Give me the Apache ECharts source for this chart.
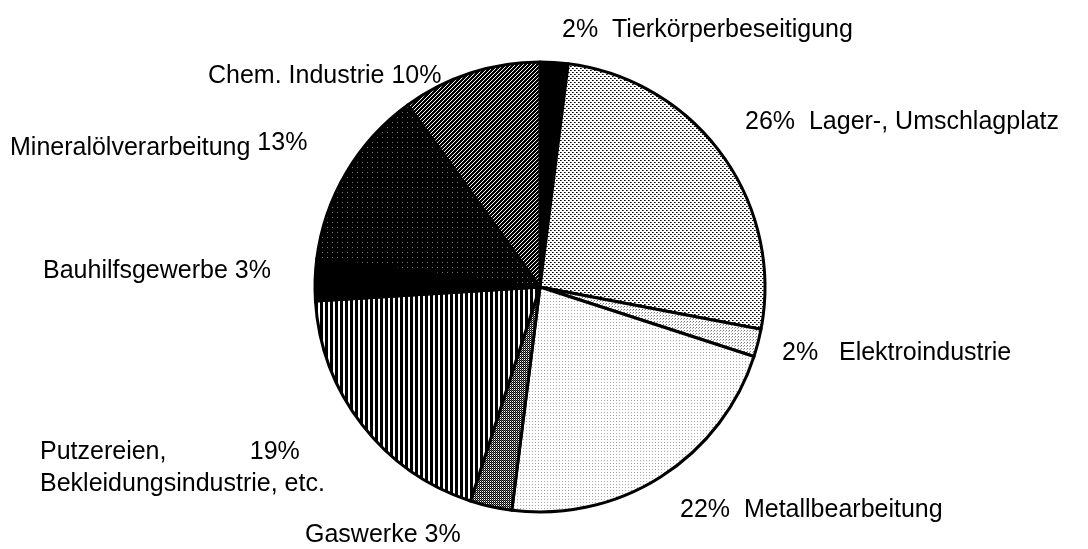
<!DOCTYPE html>
<html>
<head>
<meta charset="utf-8">
<script src="https://cdn.jsdelivr.net/npm/echarts@6/dist/echarts.min.js"></script>
<style>
  html, body { margin: 0; padding: 0; background: #fff; }
  #chart { width: 1088px; height: 549px; }
</style>
</head>
<body>
<div id="chart"></div>
<script>
// Daten (Anteile in %), im Uhrzeigersinn ab 12 Uhr
var names = ['Tierkörperbeseitigung', 'Lager-, Umschlagplatz', 'Elektroindustrie', 'Metallbearbeitung',
             'Gaswerke', 'Putzereien, Bekleidungsindustrie, etc.', 'Bauhilfsgewerbe',
             'Mineralölverarbeitung', 'Chem. Industrie'];
var values = [2, 26, 2, 22, 3, 19, 3, 13, 10];
// Beschriftungsformat je Segment
var labelFmt = ['{c}%  {b}', '{c}%  {b}', '{c}%   {b}', '{c}%  {b}', 'Gaswerke {c}%',
                'Putzereien,            {c}%\nBekleidungsindustrie, etc.', '{b} {c}%', '{b} {up|{c}%}', '{b} {c}%'];
// Lage der Beschriftungen (linke Kante, Mitte)
var labelAt = [[562, 30], [745, 122], [782, 353], [680, 510], [305, 535],
               [40, 468], [43, 271], [10, 148], [208, 76]];

function tile(w, h, draw) {
    var c = document.createElement('canvas');
    c.width = w; c.height = h;
    var g = c.getContext('2d');
    g.fillStyle = '#fff';
    g.fillRect(0, 0, w, h);
    draw(g);
    return { image: c, repeat: 'repeat' };
}
function px(g, col, pts) {
    g.fillStyle = col;
    pts.forEach(function (p) { g.fillRect(p[0], p[1], 1, 1); });
}

var fills = [
    '#000',
    // Lager: Punktraster mittel
    tile(4, 4, function (g) { px(g, '#000', [[0, 0], [2, 2]]); px(g, '#555', [[1, 0], [3, 2]]); }),
    // Elektro: helles Raster
    tile(3, 3, function (g) { px(g, '#777', [[0, 0]]); px(g, '#aaa', [[2, 1]]); }),
    // Metall: sehr hell
    tile(3, 3, function (g) { px(g, '#aaa', [[1, 1]]); }),
    // Gaswerke: dunkles Raster
    tile(2, 2, function (g) { px(g, '#000', [[0, 0], [1, 1]]); px(g, '#666', [[1, 0]]); }),
    // Putzereien: senkrechte Streifen
    tile(5, 1, function (g) { g.fillStyle = '#000'; g.fillRect(0, 0, 3, 1); }),
    '#000',
    // Mineralöl: fast schwarz mit Punkten
    tile(5, 5, function (g) { g.fillStyle = '#000'; g.fillRect(0, 0, 5, 5); px(g, '#777', [[2, 2]]); }),
    // Chem: Schraffur
    tile(4, 4, function (g) {
        var pts = [];
        for (var x = 0; x < 4; x++) for (var y = 0; y < 4; y++) if ((x + y) % 4 < 3) pts.push([x, y]);
        px(g, '#000', pts);
    })
];

var chart = echarts.init(document.getElementById('chart'));
chart.setOption({
    backgroundColor: '#fff',
    animation: false,
    series: [{
        type: 'pie',
        center: [540, 287],
        radius: 225,
        startAngle: 90,
        clockwise: true,
        silent: true,
        avoidLabelOverlap: false,
        itemStyle: { borderColor: '#000', borderWidth: 3 },
        labelLine: { show: false },
        label: {
            show: true,
            overflow: 'none',
            width: 400,
            color: '#000',
            fontFamily: 'Liberation Sans, Arial, sans-serif',
            fontSize: 25,
            lineHeight: 32,
            rich: {
                up: { fontSize: 25, padding: [0, 0, 10, 0] }
            }
        },
        labelLayout: function (p) {
            var a = labelAt[p.dataIndex];
            return { x: a[0], y: a[1], align: 'left', verticalAlign: 'middle' };
        },
        data: values.map(function (v, i) {
            return {
                name: names[i],
                value: v,
                itemStyle: { color: fills[i] },
                label: { formatter: labelFmt[i] }
            };
        })
    }]
});
</script>
</body>
</html>
